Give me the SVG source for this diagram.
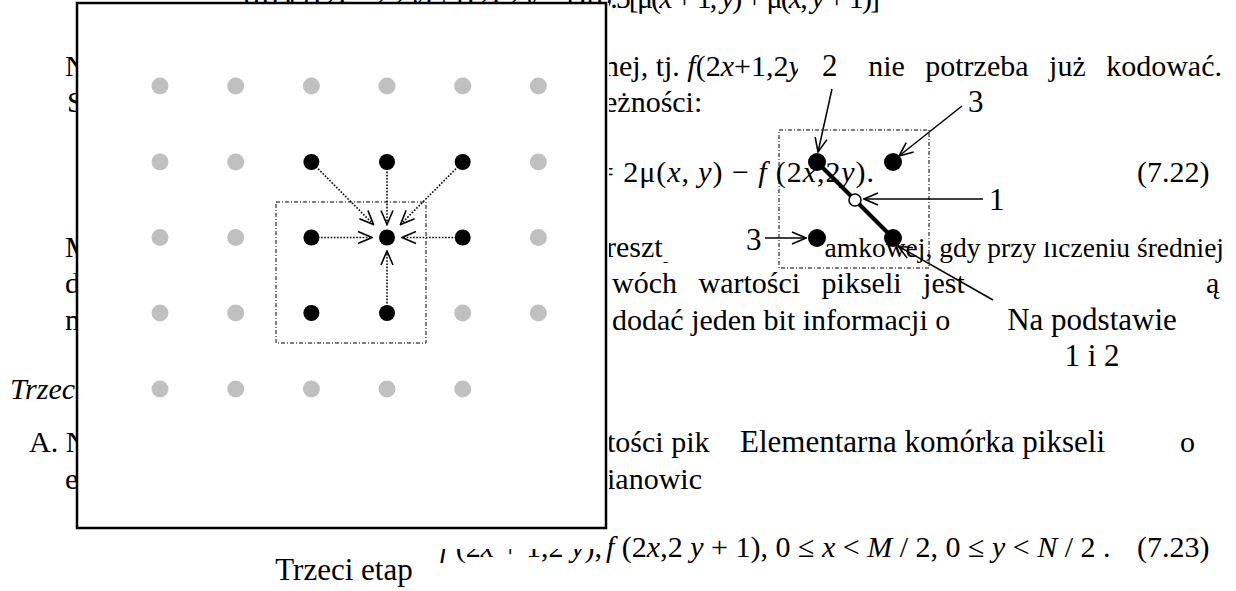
<svg xmlns="http://www.w3.org/2000/svg" width="1236" height="591" viewBox="0 0 1236 591">
<style>
.t{font-family:"Liberation Serif","Times New Roman",serif;font-size:30px;fill:#000}
.s{font-size:27.5px}
.i{font-style:italic}
.lab{font-family:"Liberation Serif","Times New Roman",serif;font-size:31px;fill:#000}
.g{fill:#c0c0c0}
.b{fill:#000}
.dt{stroke:#000;stroke-width:1.6;stroke-dasharray:1.6 1.6;fill:none}
.dd{fill:none;stroke:#000;stroke-width:1;stroke-dasharray:4 2 1 2}
.ar{stroke:#000;stroke-width:1.5;fill:none}
.bg{fill:#fff}
</style>
<defs>
<marker id="ah" viewBox="0 0 16 14" refX="15" refY="7" markerWidth="16" markerHeight="14" markerUnits="userSpaceOnUse" orient="auto">
<path d="M1,1 L15,7 L1,13" fill="none" stroke="#000" stroke-width="1.6"/>
</marker>
</defs>
<rect width="1236" height="591" fill="#fff"/>

<g id="page-text">
<text class="t" x="244" y="8" textLength="636" lengthAdjust="spacing">0.05[ <tspan class="i">f</tspan> (2<tspan class="i">x</tspan> − 2,2 <tspan class="i">y</tspan>) + <tspan class="i">f</tspan> (2<tspan class="i">x</tspan>,2 <tspan class="i">y</tspan> − 1)] 0.5[μ(<tspan class="i">x</tspan> + 1, <tspan class="i">y</tspan>) + μ(<tspan class="i">x</tspan>, <tspan class="i">y</tspan> + 1)]</text>
<text class="t" x="65" y="76">N</text>
<text class="t" x="604" y="76">nej, tj. <tspan class="i">f</tspan>(2<tspan class="i">x</tspan>+1,2<tspan class="i">y</tspan></text>
<text class="t" x="1222" y="76" text-anchor="end" word-spacing="13">nie potrzeba już kodować.</text>
<text class="t" x="67" y="112">S</text>
<text class="t" x="604" y="112">eżności:</text>
<text class="t" x="597" y="182" textLength="277" lengthAdjust="spacing">= 2μ(<tspan class="i">x</tspan>, <tspan class="i">y</tspan>) − <tspan class="i">f</tspan> (2<tspan class="i">x</tspan>,2<tspan class="i">y</tspan>).</text>
<text class="t" x="1137" y="182">(7.22)</text>
<text class="t" x="65" y="257">M</text>
<text class="t" x="606" y="257">reszty</text>
<text class="t s" x="1224" y="257" text-anchor="end">amkowej, gdy przy liczeniu średniej</text>
<text class="t" x="65" y="293">d</text>
<text class="t" x="612" y="293" word-spacing="14">wóch wartości pikseli jest</text>
<text class="t" x="1206" y="293">ą</text>
<text class="t" x="65" y="330">n</text>
<text class="t" x="612" y="330">dodać jeden bit informacji o</text>
<text class="t i" x="10" y="399">Trzec</text>
<text class="t" x="29" y="452">A. N</text>
<text class="t" x="607" y="452">tości pik</text>
<text class="t" x="1180" y="452">o</text>
<text class="t" x="65" y="489">e</text>
<text class="t" x="607" y="489">ianowic</text>
<text class="t" x="440" y="557"><tspan class="i">f</tspan> (2<tspan class="i">x</tspan> + 1,2 <tspan class="i">y</tspan>),</text>
<text class="t" x="606" y="557"><tspan class="i">f</tspan> (2<tspan class="i">x</tspan>,2 <tspan class="i">y</tspan> + 1), 0 ≤ <tspan class="i">x</tspan> &lt; <tspan class="i">M</tspan> / 2, 0 ≤ <tspan class="i">y</tspan> &lt; <tspan class="i">N</tspan> / 2 .</text>
<text class="t" x="1137" y="557">(7.23)</text>
</g>

<g id="figure-trzeci-etap">
<rect class="bg" x="77" y="3" width="532" height="546"/>
<rect id="frame" x="77" y="3" width="529" height="525" fill="#fff" stroke="#000" stroke-width="2.5"/>
<rect id="cell-box" class="dd" x="276" y="202" width="150" height="141"/>

<g id="connectors">
<path class="dt" d="M311.4,162 L373.5,224.5" marker-end="url(#ah)"/>
<path class="dt" d="M387,162 L387,224.5" marker-end="url(#ah)"/>
<path class="dt" d="M462.7,162 L400.5,224.5" marker-end="url(#ah)"/>
<path class="dt" d="M311.4,237.5 L372,237.5" marker-end="url(#ah)"/>
<path class="dt" d="M462.7,237.5 L402,237.5" marker-end="url(#ah)"/>
<path class="dt" d="M387,313 L387,251" marker-end="url(#ah)"/>
</g>

<g id="n-r1c1"><circle class="g" cx="160" cy="86" r="8.5"/></g>
<g id="n-r1c2"><circle class="g" cx="235.7" cy="86" r="8.5"/></g>
<g id="n-r1c3"><circle class="g" cx="311.4" cy="86" r="8.5"/></g>
<g id="n-r1c4"><circle class="g" cx="387" cy="86" r="8.5"/></g>
<g id="n-r1c5"><circle class="g" cx="462.7" cy="86" r="8.5"/></g>
<g id="n-r1c6"><circle class="g" cx="538.4" cy="86" r="8.5"/></g>

<g id="n-r2c1"><circle class="g" cx="160" cy="162" r="8.5"/></g>
<g id="n-r2c2"><circle class="g" cx="235.7" cy="162" r="8.5"/></g>
<g id="n-r2c3"><circle class="b" cx="311.4" cy="162" r="8"/></g>
<g id="n-r2c4"><circle class="b" cx="387" cy="162" r="8"/></g>
<g id="n-r2c5"><circle class="b" cx="462.7" cy="162" r="8"/></g>
<g id="n-r2c6"><circle class="g" cx="538.4" cy="162" r="8.5"/></g>

<g id="n-r3c1"><circle class="g" cx="160" cy="237.5" r="8.5"/></g>
<g id="n-r3c2"><circle class="g" cx="235.7" cy="237.5" r="8.5"/></g>
<g id="n-r3c3"><circle class="b" cx="311.4" cy="237.5" r="8"/></g>
<g id="n-r3c4"><circle class="b" cx="387" cy="237.5" r="8"/></g>
<g id="n-r3c5"><circle class="b" cx="462.7" cy="237.5" r="8"/></g>
<g id="n-r3c6"><circle class="g" cx="538.4" cy="237.5" r="8.5"/></g>

<g id="n-r4c1"><circle class="g" cx="160" cy="313" r="8.5"/></g>
<g id="n-r4c2"><circle class="g" cx="235.7" cy="313" r="8.5"/></g>
<g id="n-r4c3"><circle class="b" cx="311.4" cy="313" r="8"/></g>
<g id="n-r4c4"><circle class="b" cx="387" cy="313" r="8"/></g>
<g id="n-r4c5"><circle class="g" cx="462.7" cy="313" r="8.5"/></g>
<g id="n-r4c6"><circle class="g" cx="538.4" cy="313" r="8.5"/></g>

<g id="n-r5c1"><circle class="g" cx="160" cy="389" r="8.5"/></g>
<g id="n-r5c2"><circle class="g" cx="235.7" cy="389" r="8.5"/></g>
<g id="n-r5c3"><circle class="g" cx="311.4" cy="389" r="8.5"/></g>
<g id="n-r5c4"><circle class="g" cx="387" cy="389" r="8.5"/></g>
<g id="n-r5c5"><circle class="g" cx="462.7" cy="389" r="8.5"/></g>

<text id="caption-trzeci" class="lab" x="344" y="580" text-anchor="middle">Trzeci etap</text>
</g>

<g id="figure-komorka">
<g id="label-bgs">
<rect class="bg" x="798" y="50" width="66" height="38"/>
<rect class="bg" x="955" y="86" width="45" height="32"/>
<rect class="bg" x="983" y="186" width="92" height="56"/>
<rect class="bg" x="663" y="226" width="103" height="36"/>
<rect class="bg" x="975" y="270" width="225" height="106"/>
</g>
<rect id="komorka-box" class="dd" x="779" y="130" width="150" height="138"/>
<path id="diag" d="M817,162 L893,238" stroke="#000" stroke-width="4"/>
<g id="k-tl"><circle class="b" cx="817" cy="162" r="9"/></g>
<g id="k-tr"><circle class="b" cx="893" cy="162" r="9"/></g>
<g id="k-bl"><circle class="b" cx="817" cy="238" r="9"/></g>
<g id="k-br"><circle class="b" cx="893" cy="238" r="9"/></g>
<g id="k-mid"><circle cx="855" cy="200" r="6" fill="#fff" stroke="#000" stroke-width="1.6"/></g>
<g id="k-connectors">
<path class="ar" d="M832,89 L818,152" marker-end="url(#ah)"/>
<path class="ar" d="M962,106 L899,156" marker-end="url(#ah)"/>
<path class="ar" d="M983,199 L864,199" marker-end="url(#ah)"/>
<path class="ar" d="M765,238 L806,238" marker-end="url(#ah)"/>
<path class="ar" d="M993,300 L898,246" marker-end="url(#ah)"/>
</g>
<g id="k-labels">
<text class="lab" x="822" y="76">2</text>
<text class="lab" x="968" y="112">3</text>
<text class="lab" x="989" y="210">1</text>
<text class="lab" x="746" y="250">3</text>
<text class="lab" x="1092" y="330" text-anchor="middle">Na podstawie</text>
<text class="lab" x="1092" y="366" text-anchor="middle">1 i 2</text>
</g>
</g>

<g id="caption-komorka">
<rect class="bg" x="712" y="428" width="460" height="72"/>
<text class="lab" x="740" y="452">Elementarna komórka pikseli</text>
</g>
</svg>
